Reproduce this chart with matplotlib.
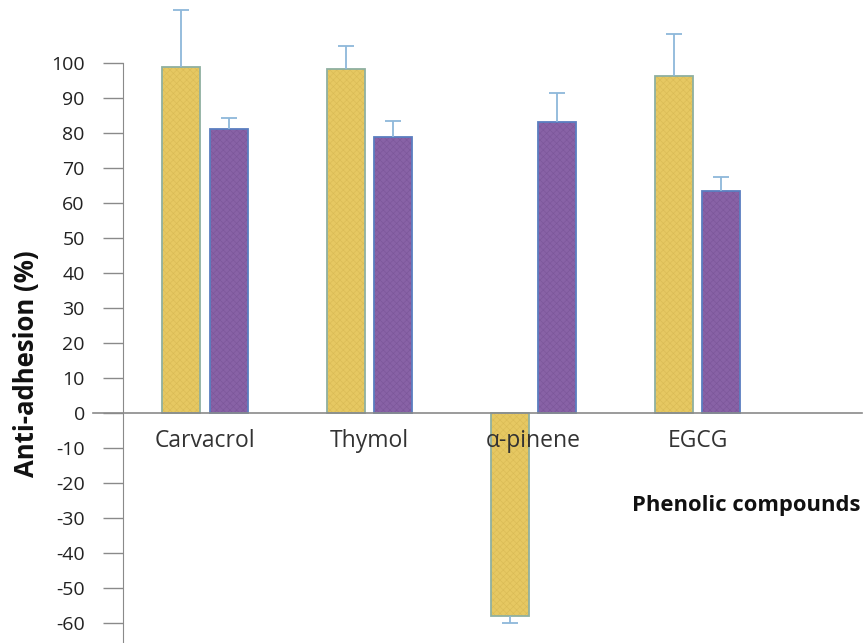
import matplotlib
matplotlib.use("Agg")
import matplotlib.pyplot as plt
import numpy as np

plt.rcParams["font.family"] = ["Open Sans", "DejaVu Sans"]
plt.rcParams["hatch.linewidth"] = 0.4
plt.rcParams["axes.unicode_minus"] = False

# data
compounds = ["Carvacrol", "Thymol", "α-pinene", "EGCG"]
series_a = [98.9, 98.3, -58.0, 96.3]
series_a_err = [16.2, 6.6, 2.0, 12.0]
series_b = [81.1, 78.9, 83.1, 63.4]
series_b_err = [3.2, 4.5, 8.3, 4.0]
yticks = list(range(-60, 101, 10))

yellow = "#E6C862"
yellow_hatch = "#D9BA55"
yellow_edge = "#8FB0A0"
purple = "#8862A6"
purple_hatch = "#7B5699"
purple_edge = "#5A7EC0"
err_color = "#8DB8DA"
axis_color = "#8A8A8A"

fig = plt.figure(figsize=(8.66, 6.43), dpi=100)
ax = fig.add_axes([123 / 866, 0, (862 - 123) / 866, 1])

x = np.arange(len(compounds))
w = 0.231
off = 0.144

for xs, vals, errs, fc, hc, ec in [
    (x - off, series_a, series_a_err, yellow, yellow_hatch, yellow_edge),
    (x + off, series_b, series_b_err, purple, purple_hatch, purple_edge),
]:
    ax.bar(xs, vals, w, color=fc, edgecolor=hc, hatch="xxxxx", linewidth=0, zorder=2)
    ax.bar(xs, vals, w, fill=False, edgecolor=ec, linewidth=1.3, zorder=3)
    # one-sided error bars, pointing away from zero, cap only at the far end
    ends = [v + e if v >= 0 else v - e for v, e in zip(vals, errs)]
    ax.vlines(xs, vals, ends, color=err_color, lw=1.3, zorder=4)
    ax.plot(xs, ends, ls="none", marker="_", markersize=11, markeredgewidth=1.3,
            color=err_color, zorder=4)

ax.set_xlim(-0.5, 4.0)
ax.set_ylim(-65.7, 118)

for s in ["top", "right", "bottom"]:
    ax.spines[s].set_visible(False)
ax.spines["left"].set_color(axis_color)
ax.spines["left"].set_bounds(-65.7, 100)
ax.axhline(0, xmin=-0.0406, xmax=1, color=axis_color, lw=1.2, clip_on=False, zorder=5)

ax.set_xticks([])
ax.set_yticks(yticks)
ax.tick_params(axis="y", direction="out", length=14.5, width=1, color=axis_color,
               pad=13, labelsize=14, labelcolor="#222222")

for xi, name in zip(x, compounds):
    ax.text(xi, -8.0, name, ha="center", va="center", fontsize=16.5, color="#333333")

fig.text(27 / 866, 1 - 364 / 643, "Anti-adhesion (%)", rotation=90, ha="center",
         va="center", fontsize=18.5, fontweight="bold", color="#111111")
fig.text(860 / 866, 1 - 506 / 643, "Phenolic compounds", ha="right", va="center",
         fontsize=15.8, fontweight="bold", color="#111111")

fig.savefig("out.png", dpi=100)
